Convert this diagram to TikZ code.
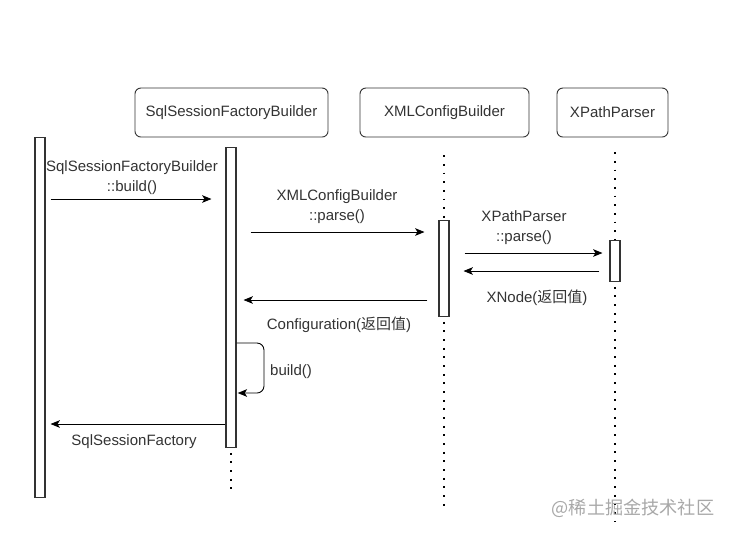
\documentclass[tikz,border=0pt]{standalone}
\usepackage{fontspec}
\setmainfont{Liberation Sans}
\newfontfamily\cjk{Noto Sans CJK SC}
\usepackage{tikz}
\usetikzlibrary{positioning, arrows.meta}
\definecolor{linegray}{HTML}{333333}
\definecolor{markgray}{HTML}{A8A8A8}

\begin{document}
\begin{tikzpicture}[x=0.03cm, y=-0.03cm,
    every node/.style={font=\fontsize{12.8}{17}\selectfont, text=linegray},
    header/.style={draw=linegray, line width=0.8pt, rounded corners=5pt,
                   minimum height=1.47cm, inner sep=0pt},
    actbar/.style={draw=linegray, line width=0.9pt, fill=white,
                   minimum width=0.3cm, inner sep=0pt, anchor=north},
    lifeline/.style={line width=1.6pt, dash pattern=on 1.6pt off 5.8pt, shorten <=4pt},
    msg/.style={-{Stealth[length=8pt, width=6.5pt, inset=2pt]}, line width=0.75pt},
    msglbl/.style={align=center, inner sep=1pt}]
  \useasboundingbox (0,0) rectangle (734,546);

  % participants
  \node[header, minimum width=5.79cm] (sfb)   at (231.5,112.5) {SqlSessionFactoryBuilder};
  \node[header, minimum width=5.07cm] (xml)   at (444.5,112.5) {XMLConfigBuilder};
  \node[header, minimum width=3.33cm] (xpath) at (612.5,112.5) {XPathParser};

  % activation bars
  \node[actbar, minimum height=10.8cm] (caller)  at (40,137)  {};
  \node[actbar, minimum height=9cm]    (sfbbar)  at (231,147) {};
  \node[actbar, minimum height=2.88cm] (xmlbar)  at (444,220) {};
  \node[actbar, minimum height=1.23cm] (xpbar)   at (615,240) {};

  % lifelines
  \coordinate (sfbend) at (231,494);
  \coordinate (xmlend) at (444,507);
  \coordinate (xpend)  at (615,522);
  \draw[lifeline] (sfbbar.south) -- (sfbend);
  \draw[lifeline] ([yshift=-0.39cm]xml.south -| xmlbar.north) -- (xmlbar.north);
  \draw[lifeline] (xmlbar.south) -- (xmlend);
  \draw[lifeline] ([yshift=-0.3cm]xpath.south -| xpbar.north) -- (xpbar.north);
  \draw[lifeline] (xpbar.south) -- (xpend);

  % message rows
  \coordinate (r1) at (0,199);
  \coordinate (r2) at (0,232);
  \coordinate (r3) at (0,253);
  \coordinate (r4) at (0,271);
  \coordinate (r5) at (0,300);
  \coordinate (r6) at (0,343);
  \coordinate (r7) at (0,393);
  \coordinate (r8) at (0,424);
  \coordinate (loopr) at (264,343);

  \draw[msg, shorten <=0.15cm, shorten >=0.42cm] (caller.east |- r1) -- (sfbbar.west |- r1);
  \draw[msg, shorten <=0.42cm, shorten >=0.42cm] (sfbbar.east |- r2) -- (xmlbar.west |- r2);
  \draw[msg, shorten <=0.45cm, shorten >=0.21cm] (xmlbar.east |- r3) -- (xpbar.west |- r3);
  \draw[msg, shorten <=0.3cm, shorten >=0.42cm] (xpbar.west |- r4) -- (xmlbar.east |- r4);
  \draw[msg, shorten <=0.33cm, shorten >=0.21cm] (xmlbar.west |- r5) -- (sfbbar.east |- r5);
  \draw[msg, rounded corners=6pt, shorten >=1pt]
    (sfbbar.east |- r6) -- (loopr) -- (loopr |- r7) -- (sfbbar.east |- r7);
  \draw[msg, shorten >=0.15cm] (sfbbar.west |- r8) -- (caller.east |- r8);

  % message labels
  \node[msglbl] (m1) at (132,178) {SqlSessionFactoryBuilder\\::build()};
  \node[msglbl] (m2) at (337,207) {XMLConfigBuilder\\::parse()};
  \node[msglbl] (m3) at (524,228) {XPathParser\\::parse()};
  \node[msglbl] (m4) at (537,298) {XNode({\cjk 返回值})};
  \node[msglbl] (m5) at (339,325) {Configuration({\cjk 返回值})};
  \node[msglbl] (m6) at (291,372) {build()};
  \node[msglbl] (m7) at (134,442) {SqlSessionFactory};

  \node[text=markgray, font=\fontsize{15.5}{18}\cjk] (mark) at (633,508) {@稀土掘金技术社区};
\end{tikzpicture}
\end{document}
